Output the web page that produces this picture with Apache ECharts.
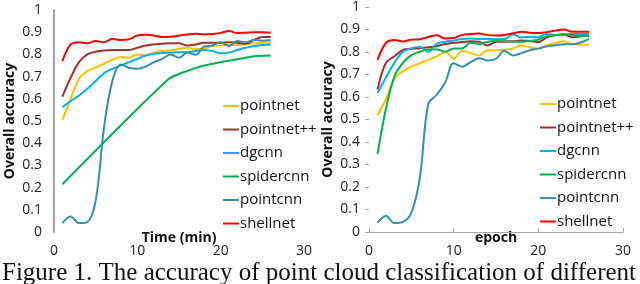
<!DOCTYPE html>
<html>
<head>
<meta charset="utf-8">
<script src="https://cdn.jsdelivr.net/npm/echarts@6/dist/echarts.min.js"></script>
<style>
html,body{margin:0;padding:0;background:#fff;}
#chart{width:640px;height:284px;}
</style>
</head>
<body>
<div id="chart"></div>
<script>
// ---------- data ----------
const seriesNames = ['pointnet', 'pointnet++', 'dgcnn', 'spidercnn', 'pointcnn', 'shellnet'];
const seriesColors = ['#FFC000', '#A0302E', '#00B0F0', '#00B050', '#3190AE', '#FF0000'];

const xTicks = [0, 10, 20, 30];
const yTicks = [0, 0.1, 0.2, 0.3, 0.4, 0.5, 0.6, 0.7, 0.8, 0.9, 1];

// left chart: Time (min)
const leftX = [1,2,3,4,5,6,7,8,9,10,11,12,13,14,15,16,17,18,19,20,21,22,23,24,25,26];
const leftPointnet   = [0.505,0.600,0.690,0.725,0.740,0.758,0.775,0.788,0.785,0.800,0.795,0.808,0.815,0.818,0.825,0.830,0.823,0.825,0.838,0.840,0.842,0.842,0.845,0.850,0.852,0.855];
const leftPointnetPP = [0.610,0.695,0.765,0.800,0.812,0.818,0.820,0.820,0.820,0.830,0.840,0.845,0.848,0.850,0.850,0.840,0.845,0.852,0.852,0.853,0.855,0.852,0.848,0.865,0.878,0.878];
const leftDgcnn      = [0.562,0.590,0.615,0.645,0.680,0.715,0.735,0.750,0.765,0.780,0.795,0.803,0.806,0.808,0.810,0.810,0.815,0.820,0.815,0.805,0.808,0.820,0.830,0.838,0.842,0.843];
const leftSpiderX    = [1, 13.8, 17.5, 21.5, 24, 26];
const leftSpidercnn  = [0.215, 0.690, 0.745, 0.775, 0.792, 0.795];
const leftPointcnn   = [0.040,0.070,0.040,0.045,0.140,0.470,0.680,0.755,0.740,0.735,0.745,0.765,0.780,0.800,0.785,0.808,0.798,0.835,0.840,0.855,0.838,0.860,0.855,0.865,0.862,0.865];
const leftShellnet   = [0.770,0.845,0.855,0.850,0.860,0.855,0.870,0.865,0.868,0.885,0.888,0.885,0.878,0.880,0.885,0.890,0.893,0.890,0.892,0.897,0.905,0.896,0.898,0.900,0.900,0.898];

// right chart: epoch
const rightX = [1,2,3,4,5,6,7,8,9,10,11,12,13,14,15,16,17,18,19,20,21,22,23,24,25,26];
const rightPointnet   = [0.520,0.590,0.680,0.715,0.735,0.750,0.765,0.780,0.800,0.770,0.805,0.795,0.785,0.808,0.808,0.810,0.815,0.830,0.820,0.815,0.830,0.840,0.848,0.835,0.833,0.832];
const rightPointnetPP = [0.633,0.752,0.781,0.809,0.814,0.817,0.821,0.826,0.836,0.841,0.844,0.848,0.846,0.829,0.846,0.846,0.848,0.851,0.849,0.844,0.865,0.875,0.878,0.866,0.870,0.873];
const rightDgcnn      = [0.618,0.687,0.752,0.801,0.816,0.823,0.801,0.836,0.846,0.851,0.858,0.860,0.858,0.858,0.858,0.858,0.878,0.865,0.868,0.866,0.880,0.875,0.878,0.880,0.880,0.880];
const rightSpidercnn  = [0.346,0.548,0.692,0.752,0.786,0.801,0.811,0.811,0.801,0.816,0.816,0.841,0.836,0.846,0.849,0.848,0.846,0.846,0.849,0.855,0.870,0.875,0.878,0.875,0.872,0.872];
const rightPointcnn   = [0.040,0.072,0.040,0.045,0.085,0.240,0.570,0.610,0.665,0.750,0.735,0.755,0.772,0.762,0.770,0.805,0.785,0.795,0.808,0.815,0.825,0.830,0.835,0.835,0.842,0.858];
const rightShellnet   = [0.765,0.840,0.853,0.847,0.855,0.857,0.867,0.875,0.860,0.862,0.876,0.880,0.882,0.875,0.873,0.876,0.883,0.890,0.886,0.885,0.888,0.895,0.900,0.890,0.890,0.890];

const caption = 'Figure 1. The accuracy of point cloud classification of different';

// ---------- build ----------
function pairs(xs, ys) { return xs.map((x, i) => [x, ys[i]]); }

const leftData = [
  pairs(leftX, leftPointnet), pairs(leftX, leftPointnetPP), pairs(leftX, leftDgcnn),
  pairs(leftSpiderX, leftSpidercnn), pairs(leftX, leftPointcnn), pairs(leftX, leftShellnet)
];
const rightData = [
  pairs(rightX, rightPointnet), pairs(rightX, rightPointnetPP), pairs(rightX, rightDgcnn),
  pairs(rightX, rightSpidercnn), pairs(rightX, rightPointcnn), pairs(rightX, rightShellnet)
];

const drawOrder = [3, 4, 2, 0, 1, 5];
const series = [];
[leftData, rightData].forEach((dataSet, gi) => {
  drawOrder.forEach((k) => {
    const sparse = dataSet[k].length < 10;
    series.push({
      name: seriesNames[k],
      type: 'line',
      xAxisIndex: gi, yAxisIndex: gi,
      data: dataSet[k],
      smooth: sparse ? 0.15 : 0.35,
      showSymbol: false,
      symbol: 'none',
      lineStyle: { color: seriesColors[k], width: 2 },
      itemStyle: { color: seriesColors[k] },
      z: 2 + k,
      animation: false
    });
  });
});

const labelFont = { fontFamily: 'Open Sans', fontSize: 14, color: '#222' };
const nameFont = { fontFamily: 'Open Sans', fontSize: 14, fontWeight: 'bold', color: '#111' };

function xAxisCfg(gi, name, showLine) {
  return {
    type: 'value', gridIndex: gi, min: xTicks[0], max: xTicks[xTicks.length - 1], interval: 10,
    name: name, nameLocation: 'middle', nameGap: -1, nameMoveOverlap: false, nameTextStyle: nameFont,
    axisLine: { show: showLine, lineStyle: { color: '#A6A6A6', width: 1 } },
    axisTick: { show: showLine, inside: true, length: 4, lineStyle: { color: '#A6A6A6' } },
    axisLabel: Object.assign({ margin: 12 }, labelFont),
    splitLine: { show: false }
  };
}
function yAxisCfg(gi, showLine, gap) {
  return {
    type: 'value', gridIndex: gi, min: yTicks[0], max: yTicks[yTicks.length - 1], interval: 0.1,
    name: 'Overall accuracy', nameLocation: 'middle', nameGap: gap, nameMoveOverlap: false, nameTextStyle: nameFont,
    axisLine: { show: showLine, lineStyle: { color: '#A6A6A6', width: 2 } },
    axisTick: { show: !showLine, inside: false, length: 4, lineStyle: { color: '#A6A6A6' } },
    axisLabel: Object.assign({ margin: showLine ? 12 : 9 }, labelFont),
    splitLine: { show: false }
  };
}

function legendCfg(left, top) {
  return {
    orient: 'vertical', left: left, top: top,
    data: seriesNames.map((n) => ({ name: n })),
    icon: 'rect', itemWidth: 16, itemHeight: 2, itemGap: 7.5,
    textStyle: { fontFamily: 'Open Sans', fontSize: 15, color: '#111', lineHeight: 16, padding: [0, 0, 0, -4] },
    selectedMode: false
  };
}

const chart = echarts.init(document.getElementById('chart'), null, { renderer: 'canvas' });
chart.setOption({
  backgroundColor: '#fff',
  animation: false,
  grid: [
    { left: 54, top: 10, width: 250, height: 222, containLabel: false },
    { left: 369, top: 4.5, width: 254, height: 227.5, containLabel: false }
  ],
  xAxis: [xAxisCfg(0, 'Time (min)', false), xAxisCfg(1, 'epoch', true)],
  yAxis: [yAxisCfg(0, true, 37), yAxisCfg(1, false, 34)],
  legend: [legendCfg(218, 93), legendCfg(535, 91)],
  series: series,
  graphic: [{
    type: 'text', left: 2, top: 261,
    style: { text: caption, font: '25px "Liberation Serif"', fill: '#111' }
  }]
});
</script>
</body>
</html>
